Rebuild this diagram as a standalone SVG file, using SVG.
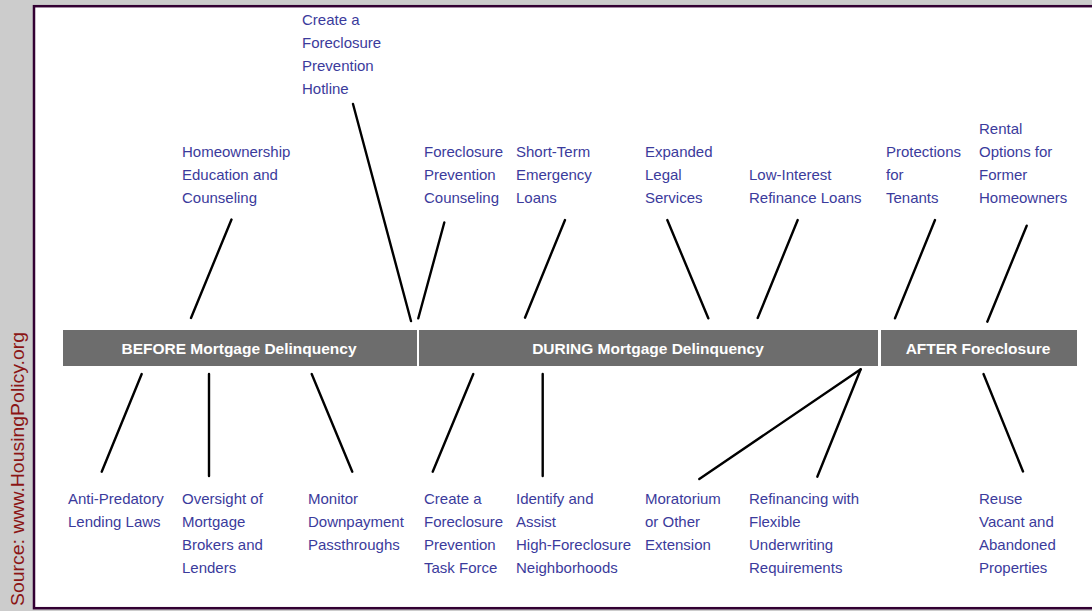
<svg xmlns="http://www.w3.org/2000/svg" width="1092" height="611" viewBox="0 0 1092 611">
<style>
.lbl{font-family:"Liberation Sans",Arial,sans-serif;font-size:15px;fill:#3b3b9c}
.bar{fill:#6d6d6d}
.bt{font-family:"Liberation Sans",Arial,sans-serif;font-size:15.5px;font-weight:bold;fill:#ffffff;text-anchor:middle}
.ln{stroke:#000;stroke-width:2.4;stroke-linecap:round;fill:none}
</style>
<rect x="0" y="0" width="1092" height="611" fill="#cccccc"/>
<rect x="34" y="6.2" width="1070" height="602" fill="#ffffff" stroke="#330033" stroke-width="2.5"/>
<text transform="translate(24,606) rotate(-90)" font-family="'Liberation Sans',Arial,sans-serif" font-size="19" fill="#8b1515" textLength="274" lengthAdjust="spacingAndGlyphs">Source: www.HousingPolicy.org</text>

<g id="phase-before"><rect class="bar" x="63" y="330" width="354" height="36"/><text class="bt" x="239" y="354">BEFORE Mortgage Delinquency</text></g>
<g id="phase-during"><rect class="bar" x="419" y="330" width="459" height="36"/><text class="bt" x="648" y="354">DURING Mortgage Delinquency</text></g>
<g id="phase-after"><rect class="bar" x="881" y="330" width="196" height="36"/><text class="bt" x="978" y="354">AFTER Foreclosure</text></g>

<g id="connectors">
<line class="ln" x1="231.5" y1="219.5" x2="191" y2="318"/>
<line class="ln" x1="353" y1="104" x2="411" y2="321"/>
<line class="ln" x1="444.3" y1="222.5" x2="418.3" y2="318.3"/>
<line class="ln" x1="565" y1="220" x2="525" y2="317.7"/>
<line class="ln" x1="667.3" y1="220" x2="708.3" y2="318.3"/>
<line class="ln" x1="797.7" y1="220" x2="757.7" y2="318"/>
<line class="ln" x1="935" y1="220" x2="895" y2="318.3"/>
<line class="ln" x1="1026.7" y1="225.7" x2="987.3" y2="321.7"/>
<line class="ln" x1="141.7" y1="374" x2="101.7" y2="471.7"/>
<line class="ln" x1="209" y1="374" x2="209" y2="476"/>
<line class="ln" x1="311.7" y1="374" x2="352.3" y2="471.7"/>
<line class="ln" x1="473.3" y1="374" x2="432.7" y2="471.7"/>
<line class="ln" x1="542.7" y1="374" x2="542.7" y2="476"/>
<line class="ln" x1="860.7" y1="369.3" x2="699.3" y2="479"/>
<line class="ln" x1="860.7" y1="369.3" x2="817.3" y2="476.7"/>
<line class="ln" x1="983.5" y1="374" x2="1023" y2="471.5"/>
</g>

<g id="n-hotline"><text class="lbl" x="302" y="25">Create a</text><text class="lbl" x="302" y="48">Foreclosure</text><text class="lbl" x="302" y="71">Prevention</text><text class="lbl" x="302" y="94">Hotline</text></g>
<g id="n-homeownership"><text class="lbl" x="182" y="157">Homeownership</text><text class="lbl" x="182" y="180">Education and</text><text class="lbl" x="182" y="203">Counseling</text></g>
<g id="n-fpcounseling"><text class="lbl" x="424" y="157">Foreclosure</text><text class="lbl" x="424" y="180">Prevention</text><text class="lbl" x="424" y="203">Counseling</text></g>
<g id="n-shortterm"><text class="lbl" x="516" y="157">Short-Term</text><text class="lbl" x="516" y="180">Emergency</text><text class="lbl" x="516" y="203">Loans</text></g>
<g id="n-legal"><text class="lbl" x="645" y="157">Expanded</text><text class="lbl" x="645" y="180">Legal</text><text class="lbl" x="645" y="203">Services</text></g>
<g id="n-lowinterest"><text class="lbl" x="749" y="180">Low-Interest</text><text class="lbl" x="749" y="203">Refinance Loans</text></g>
<g id="n-tenants"><text class="lbl" x="886" y="157">Protections</text><text class="lbl" x="886" y="180">for</text><text class="lbl" x="886" y="203">Tenants</text></g>
<g id="n-rental"><text class="lbl" x="979" y="134">Rental</text><text class="lbl" x="979" y="157">Options for</text><text class="lbl" x="979" y="180">Former</text><text class="lbl" x="979" y="203">Homeowners</text></g>

<g id="n-antipredatory"><text class="lbl" x="68" y="504">Anti-Predatory</text><text class="lbl" x="68" y="527">Lending Laws</text></g>
<g id="n-oversight"><text class="lbl" x="182" y="504">Oversight of</text><text class="lbl" x="182" y="527">Mortgage</text><text class="lbl" x="182" y="550">Brokers and</text><text class="lbl" x="182" y="573">Lenders</text></g>
<g id="n-downpayment"><text class="lbl" x="308" y="504">Monitor</text><text class="lbl" x="308" y="527">Downpayment</text><text class="lbl" x="308" y="550">Passthroughs</text></g>
<g id="n-taskforce"><text class="lbl" x="424" y="504">Create a</text><text class="lbl" x="424" y="527">Foreclosure</text><text class="lbl" x="424" y="550">Prevention</text><text class="lbl" x="424" y="573">Task Force</text></g>
<g id="n-identify"><text class="lbl" x="516" y="504">Identify and</text><text class="lbl" x="516" y="527">Assist</text><text class="lbl" x="516" y="550">High-Foreclosure</text><text class="lbl" x="516" y="573">Neighborhoods</text></g>
<g id="n-moratorium"><text class="lbl" x="645" y="504">Moratorium</text><text class="lbl" x="645" y="527">or Other</text><text class="lbl" x="645" y="550">Extension</text></g>
<g id="n-refinancing"><text class="lbl" x="749" y="504">Refinancing with</text><text class="lbl" x="749" y="527">Flexible</text><text class="lbl" x="749" y="550">Underwriting</text><text class="lbl" x="749" y="573">Requirements</text></g>
<g id="n-reuse"><text class="lbl" x="979" y="504">Reuse</text><text class="lbl" x="979" y="527">Vacant and</text><text class="lbl" x="979" y="550">Abandoned</text><text class="lbl" x="979" y="573">Properties</text></g>
</svg>
